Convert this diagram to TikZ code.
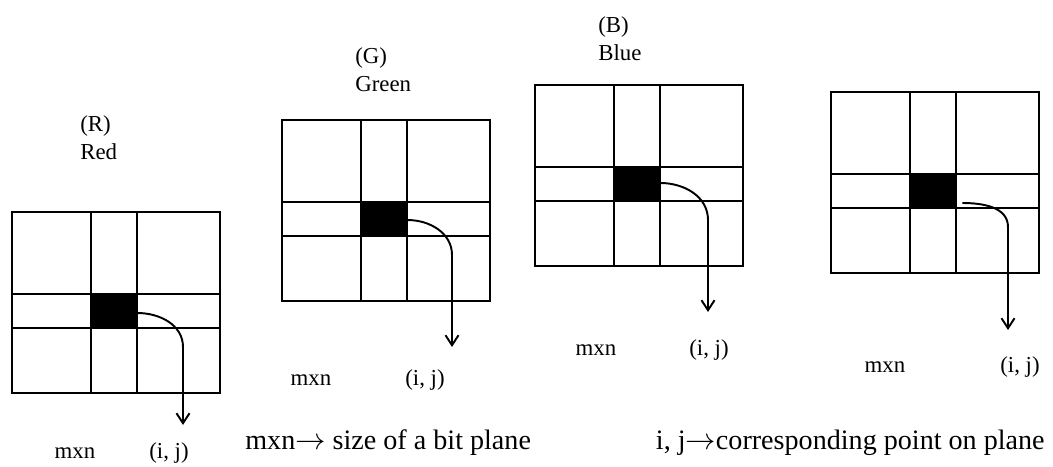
\documentclass[tikz,border=0pt]{standalone}
\usepackage{fontspec}
\setmainfont{Liberation Serif}
\usetikzlibrary{arrows.meta,positioning}

\begin{document}
\begin{tikzpicture}[x=0.02cm,y=-0.02cm,
	plane/.style={line width=1.6pt},
	gridline/.style={line width=1.3pt},
	cell/.style={fill=black,inner sep=0pt,minimum width=0.92cm,minimum height=0.68cm},
	link/.style={line width=1.1pt,-{Straight Barb[length=2mm,width=2.6mm]}},
	head/.style={font=\fontsize{13}{16}\selectfont,align=left,inner sep=0pt,anchor=west},
	lbl/.style={font=\fontsize{13}{15}\selectfont,inner sep=0pt},
	key/.style={font=\fontsize{16}{18}\selectfont,inner sep=0pt}]
	\useasboundingbox (0,0) rectangle (1053,466);
	% the four bit planes
	\foreach \n/\px/\py/\bx/\ty/\sx/\sy in {1/12/212/171/213/0/2, 2/282/120/170/227/0/1, 3/535/85/173/227/0/-1, 4/831/92/177/238/6/12}{
		\begin{scope}[shift={(\px,\py)}]
			\draw[plane] (0,0) rectangle (208,181);
			\draw[gridline] (79,0) -- (79,181) (125,0) -- (125,181) (0,82) -- (208,82) (0,116) -- (208,116);
			\node[cell] (cell\n) at (102,99) {};
			\coordinate (bend\n) at (\bx,135);
			\coordinate (tip\n) at (\bx,\ty);
			\draw[link] ([shift={(\sx,\sy)}]cell\n.east) to[out=0,in=90] (bend\n) -- (tip\n);
		\end{scope}
	}
	% colour names
	\node[head] (hR) at (80,138) {(R)\\Red};
	\node[head] (hG) at (355,70) {(G)\\Green};
	\node[head] (hB) at (598,39) {(B)\\Blue};
	% size and point under each plane
	\foreach \n/\mx/\ix/\ly in {1/75/169/453, 2/311/425/380, 3/596/709/350, 4/885/1020/367}{
		\node[lbl] (mn\n) at (\mx,\ly) {mxn};
		\node[lbl] (ij\n) at (\ix,\ly) {(i, j)};
	}
	% key
	\node[key,anchor=west] (keymn) at (245,443) {mxn$\rightarrow$ size of a bit plane};
	\node[key,anchor=east] (keyij) at (1045,443) {i, j$\rightarrow$corresponding point on plane};
\end{tikzpicture}
\end{document}
